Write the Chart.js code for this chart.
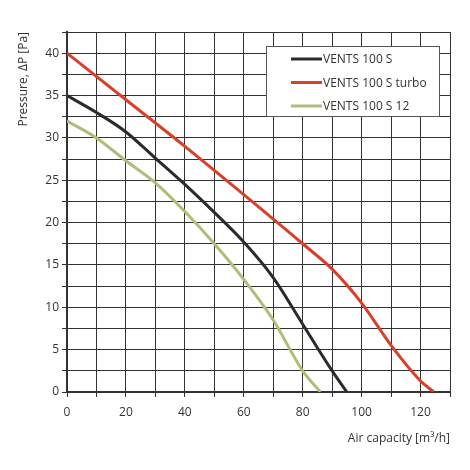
<!DOCTYPE html>
<html>
<head>
<meta charset="utf-8">
<script src="https://cdn.jsdelivr.net/npm/chart.js@4"></script>
<style>
  body { margin: 0; background: #fff; }
  #wrap { width: 470px; height: 470px; }
</style>
</head>
<body>
<div id="wrap"><canvas id="myChart" width="470" height="470"></canvas></div>
<script>
// curve values
const seriesNames = ['VENTS 100 S', 'VENTS 100 S turbo', 'VENTS 100 S 12'];
const seriesColors = ['#2b2b2b', '#d9402a', '#aebe78'];

const flowS = [0, 10, 20, 30, 40, 50, 60, 70, 80, 90, 95];
const presS = [35, 33, 30.7, 27.6, 24.5, 21.2, 17.7, 13.5, 8, 2.5, 0];

const flowTurbo = [0, 20, 40, 60, 80, 90, 100, 110, 120, 124.5];
const presTurbo = [40, 34.5, 29, 23.3, 17.5, 14.5, 10.5, 5.5, 1.3, 0];

const flow12 = [0, 10, 20, 30, 40, 50, 60, 70, 80, 86];
const pres12 = [32, 30, 27.3, 24.7, 21.3, 17.5, 13.3, 8.5, 2.5, 0];

const xs = [flowS, flowTurbo, flow12];
const ys = [presS, presTurbo, pres12];

const font = { family: 'Open Sans', size: 12 };

function pts(x, y) {
  return x.map((v, i) => ({ x: v, y: y[i] }));
}

// legend drawn as a box inside the plot, top right
const boxLegend = {
  id: 'boxLegend',
  afterDraw(chart) {
    const ctx = chart.ctx;
    const area = chart.chartArea;
    const left = area.left + 199, top = area.top + 14, w = 173, h = 70;
    ctx.save();
    ctx.fillStyle = '#fff';
    ctx.fillRect(left, top, w, h);
    ctx.strokeStyle = '#555';
    ctx.lineWidth = 1;
    ctx.strokeRect(left + 0.5, top + 0.5, w, h);
    ctx.font = '12px "Open Sans"';
    ctx.textBaseline = 'middle';
    chart.data.datasets.forEach((ds, i) => {
      const yy = top + 13 + i * 23.5;
      ctx.strokeStyle = ds.borderColor;
      ctx.lineWidth = 3;
      ctx.beginPath();
      ctx.moveTo(left + 25, yy);
      ctx.lineTo(left + 56, yy);
      ctx.stroke();
      ctx.fillStyle = '#333';
      ctx.fillText(ds.label, left + 57, yy + 1);
    });
    ctx.restore();
  }
};

const chartCanvas = document.getElementById('myChart');
new Chart(chartCanvas, {
  type: 'line',
  data: {
    datasets: seriesNames.map((n, i) => ({
      label: n,
      data: pts(xs[i], ys[i]),
      borderColor: seriesColors[i],
      borderWidth: 3,
      pointRadius: 0,
      cubicInterpolationMode: 'monotone',
      fill: false
    }))
  },
  options: {
    responsive: false,
    animation: false,
    layout: { padding: { top: 32, right: 20, left: 12, bottom: 20 } },
    plugins: { legend: { display: false }, tooltip: { enabled: false } },
    scales: {
      x: {
        type: 'linear', min: 0, max: 130,
        ticks: {
          stepSize: 10, color: '#333', font: font, maxRotation: 0, padding: 8,
          callback: v => (v % 20 === 0 && v <= 120) ? v : ''
        },
        grid: { color: '#333', lineWidth: 1, tickLength: 5 },
        border: { color: '#333', width: 2 },
        title: { display: true, text: 'Air capacity [m³/h]', align: 'end', color: '#333', font: font, padding: { top: 6 } },
        afterFit(s) { s.height = 58; }
      },
      y: {
        min: 0, max: 42.5,
        ticks: {
          stepSize: 2.5, color: '#333', font: font,
          callback: v => (v % 5 === 0) ? v : ''
        },
        grid: { color: '#333', lineWidth: 1, tickLength: 5 },
        border: { color: '#333', width: 2 },
        title: { display: true, text: 'Pressure, ΔP [Pa]', align: 'end', color: '#333', font: font },
        afterFit(s) { s.width = 55; }
      }
    }
  },
  plugins: [boxLegend]
});
</script>
</body>
</html>
